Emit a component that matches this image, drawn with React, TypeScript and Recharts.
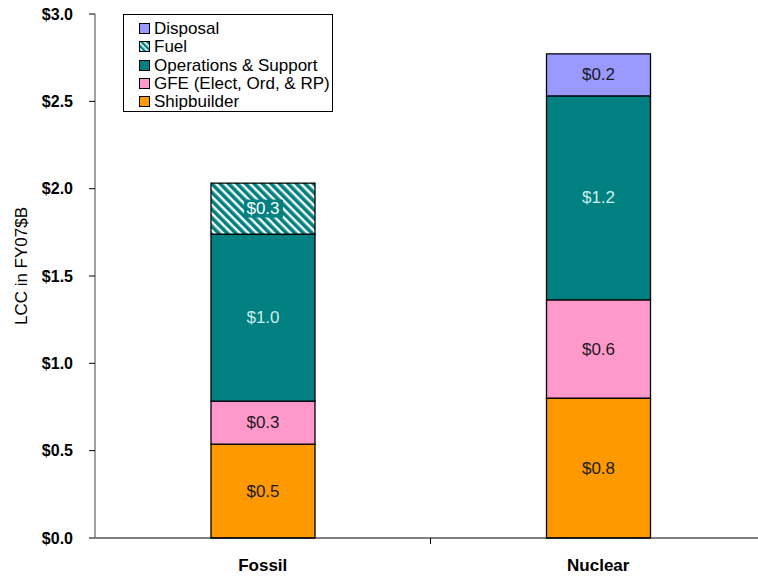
import React from 'react';
import { BarChart, Bar, XAxis, YAxis, LabelList, Legend } from 'recharts';

const categories = ['Fossil', 'Nuclear'];
const shipbuilder = [0.538, 0.8];
const gfe = [0.246, 0.563];
const operations = [0.956, 1.168];
const fuel = [0.292, 0];
const disposal = [0, 0.241];

const shipbuilderLabels = ['$0.5', '$0.8'];
const gfeLabels = ['$0.3', '$0.6'];
const operationsLabels = ['$1.0', '$1.2'];
const fuelLabels = ['$0.3', ''];
const disposalLabels = ['', '$0.2'];

const yTicks = [0, 0.5, 1.0, 1.5, 2.0, 2.5, 3.0];

const legendItems = [
  { name: 'Disposal', fill: '#9999FF' },
  { name: 'Fuel', fill: 'url(#hatch)' },
  { name: 'Operations & Support', fill: '#008080' },
  { name: 'GFE (Elect, Ord, & RP)', fill: '#FF99CC' },
  { name: 'Shipbuilder', fill: '#FF9900' },
];

const data = categories.map((name, i) => ({
  name,
  pos: i + 0.5,
  shipbuilder: shipbuilder[i],
  gfe: gfe[i],
  operations: operations[i],
  fuel: fuel[i],
  disposal: disposal[i],
  shipbuilderLabel: shipbuilderLabels[i],
  gfeLabel: gfeLabels[i],
  operationsLabel: operationsLabels[i],
  fuelLabel: fuelLabels[i],
  disposalLabel: disposalLabels[i],
}));

const FONT = 'Liberation Sans, Arial, sans-serif';

const makeLabel = (color: string, bg?: string) => (props: any) => {
  const { x, y, width, height, value } = props;
  if (!value) return null;
  const cx = Number(x) + Number(width) / 2;
  const cy = Number(y) + Number(height) / 2;
  return (
    <g>
      {bg ? <rect x={cx - 19} y={cy - 9} width={39} height={18} fill={bg} /> : null}
      <text
        x={cx}
        y={cy}
        textAnchor="middle"
        dominantBaseline="central"
        fill={color}
        fontSize={17}
        fontFamily={FONT}
      >
        {value}
      </text>
    </g>
  );
};

const XTick = (props: any) => {
  const { x, y, payload } = props;
  const v = payload.value;
  if (v === 1) {
    return <line x1={x} x2={x} y1={y} y2={y + 6} stroke="#000" strokeWidth={1} />;
  }
  const name = categories[Math.floor(v)];
  return (
    <text x={x} y={y + 33} textAnchor="middle" fontSize={17} fontWeight="bold" fontFamily={FONT} fill="#000">
      {name}
    </text>
  );
};

const YLabel = (props: any) => {
  const vb = props.viewBox || { x: 0, y: 14, width: 95, height: 524 };
  const cx = vb.x + 27;
  const cy = vb.y + vb.height / 2 - 10;
  return (
    <text
      x={cx}
      y={cy}
      transform={`rotate(-90, ${cx}, ${cy})`}
      textAnchor="middle"
      fontSize={17}
      fontFamily={FONT}
      fill="#000"
    >
      LCC in FY07$B
    </text>
  );
};

const LegendContent = () => (
  <div
    style={{
      boxSizing: 'border-box',
      width: 210,
      height: 98,
      border: '1px solid #000',
      background: '#fff',
      padding: '5px 0 0 15px',
      fontFamily: FONT,
      fontSize: 17,
      lineHeight: '18.3px',
      color: '#000',
      textAlign: 'left',
    }}
  >
    {legendItems.map((it) => (
      <div key={it.name} style={{ display: 'flex', alignItems: 'center', whiteSpace: 'nowrap' }}>
        <svg width={12} height={12} style={{ marginRight: 3, flex: 'none' }}>
          <defs>
            <pattern id={`lh-${it.name.length}`} patternUnits="userSpaceOnUse" width={4} height={4} patternTransform="rotate(45)">
              <rect width={4} height={4} fill="#008080" />
              <rect width={4} height={1.6} fill="#fff" />
            </pattern>
          </defs>
          <rect
            x={0.5}
            y={0.5}
            width={10}
            height={10}
            fill={it.name === 'Fuel' ? `url(#lh-${it.name.length})` : it.fill}
            stroke="#000"
            strokeWidth={1}
          />
        </svg>
        <span>{it.name}</span>
      </div>
    ))}
  </div>
);

export default function App() {
  return (
    <div
      style={{
        position: 'fixed',
        left: 0,
        top: 0,
        width: 758,
        height: 577,
        overflow: 'hidden',
        background: '#fff',
      }}
    >
      <BarChart
        width={780}
        height={577}
        data={data}
        margin={{ top: 14, right: 14, bottom: 0, left: 0 }}
      >
        <defs>
          <pattern id="hatch" patternUnits="userSpaceOnUse" width={6} height={6} patternTransform="rotate(45)">
            <rect width={6} height={6} fill="#008080" />
            <rect width={6} height={2.4} fill="#ffffff" />
          </pattern>
        </defs>
        <XAxis
          dataKey="pos"
          type="number"
          domain={[0, 2]}
          ticks={[0.5, 1, 1.5]}
          tickLine={false}
          tickSize={0}
          tickMargin={0}
          height={39}
          axisLine={{ stroke: '#000', strokeWidth: 1 }}
          tick={<XTick />}
          interval={0}
        />
        <YAxis
          type="number"
          domain={[0, 3]}
          ticks={yTicks}
          width={95}
          interval={0}
          tickSize={6}
          tickMargin={16}
          axisLine={{ stroke: '#808080', strokeWidth: 1.5 }}
          tickLine={{ stroke: '#000' }}
          tick={{ fill: '#000', fontSize: 16, fontWeight: 'bold', fontFamily: FONT }}
          tickFormatter={(v: number) => `$${v.toFixed(1)}`}
          label={YLabel}
        />
        <Legend
          content={<LegendContent />}
          layout="vertical"
          align="center"
          verticalAlign="middle"
          wrapperStyle={{ position: 'absolute', left: 123, top: 14, width: 210, height: 98 }}
        />
        <Bar dataKey="shipbuilder" stackId="a" fill="#FF9900" stroke="#000" strokeWidth={1.3} barSize={104} isAnimationActive={false}>
          <LabelList dataKey="shipbuilderLabel" content={makeLabel('#1a1a1a')} />
        </Bar>
        <Bar dataKey="gfe" stackId="a" fill="#FF99CC" stroke="#000" strokeWidth={1.3} barSize={104} isAnimationActive={false}>
          <LabelList dataKey="gfeLabel" content={makeLabel('#1a1a1a')} />
        </Bar>
        <Bar dataKey="operations" stackId="a" fill="#008080" stroke="#000" strokeWidth={1.3} barSize={104} isAnimationActive={false}>
          <LabelList dataKey="operationsLabel" content={makeLabel('#cceeee')} />
        </Bar>
        <Bar dataKey="fuel" stackId="a" fill="url(#hatch)" stroke="#000" strokeWidth={1.3} barSize={104} isAnimationActive={false}>
          <LabelList dataKey="fuelLabel" content={makeLabel('#ffffff', '#008080')} />
        </Bar>
        <Bar dataKey="disposal" stackId="a" fill="#9999FF" stroke="#000" strokeWidth={1.3} barSize={104} isAnimationActive={false}>
          <LabelList dataKey="disposalLabel" content={makeLabel('#1a1a1a')} />
        </Bar>
      </BarChart>
    </div>
  );
}
